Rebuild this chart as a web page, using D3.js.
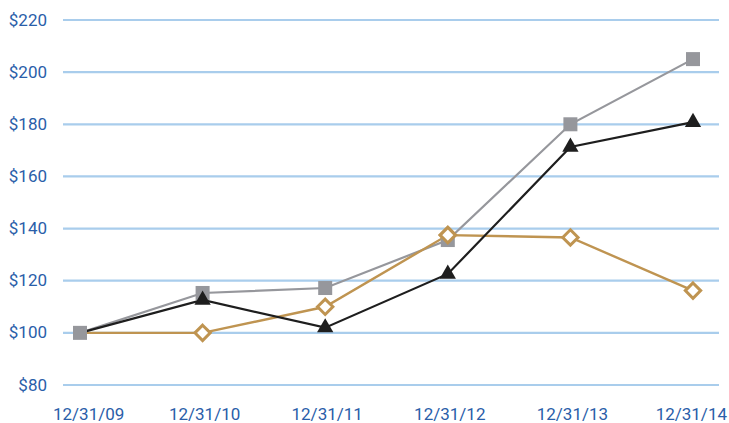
<!DOCTYPE html>
<html>
<head>
<meta charset="utf-8">
<script src="https://cdn.jsdelivr.net/npm/d3@7"></script>
<style>
  body { margin: 0; background: #fff; }
  text { font-family: Roboto, "Open Sans", sans-serif; }
</style>
</head>
<body>
<div id="chart"></div>
<script>
const dates = ["12/31/09", "12/31/10", "12/31/11", "12/31/12", "12/31/13", "12/31/14"];
const grayValues = [100, 115.3, 117.2, 135.6, 180.0, 205.0];
const blackValues = [100, 112.6, 102.0, 122.6, 171.3, 180.8];
const tanValues = [100, 100, 110.0, 137.5, 136.6, 116.2];
const yTicks = [80, 100, 120, 140, 160, 180, 200, 220];

const width = 729, height = 423;
const margin = {top: 20, right: 10, bottom: 38, left: 63};

const svg = d3.select("#chart").append("svg")
  .attr("width", width)
  .attr("height", height);

const xScale = d3.scalePoint()
  .domain(dates)
  .range([80, 693]);

const yScale = d3.scaleLinear()
  .domain([80, 220])
  .range([385, 20]);

// gridlines
svg.append("g")
  .selectAll("line")
  .data(yTicks)
  .join("line")
  .attr("x1", margin.left)
  .attr("x2", 719)
  .attr("y1", d => yScale(d))
  .attr("y2", d => yScale(d))
  .attr("stroke", "#a9cdec")
  .attr("stroke-width", 2.2);

// y labels
svg.append("g")
  .selectAll("text")
  .data(yTicks)
  .join("text")
  .attr("x", 47)
  .attr("y", d => yScale(d))
  .attr("dy", "0.33em")
  .attr("text-anchor", "end")
  .attr("fill", "#2a5ea9")
  .attr("font-size", 17)
  .text(d => "$" + d);

// x labels (first and last are pulled in so they stay inside the page)
const last = dates.length - 1;
svg.append("g")
  .selectAll("text")
  .data(dates)
  .join("text")
  .attr("x", (d, i) => i === 0 ? 53 : i === last ? 727 : xScale(d) + 2)
  .attr("y", 420)
  .attr("text-anchor", (d, i) => i === 0 ? "start" : i === last ? "end" : "middle")
  .attr("fill", "#2a5ea9")
  .attr("font-size", 17)
  .text(d => d);

const lineGen = d3.line()
  .x((d, i) => xScale(dates[i]))
  .y(d => yScale(d));

const series = [
  {values: grayValues, color: "#96979c", width: 2.2},
  {values: tanValues, color: "#bf9451", width: 2.4},
  {values: blackValues, color: "#1e1e1e", width: 2.2}
];

series.forEach(s => {
  svg.append("path")
    .datum(s.values)
    .attr("fill", "none")
    .attr("stroke", s.color)
    .attr("stroke-width", s.width)
    .attr("d", lineGen);
});

// tan diamonds (first point sits under the gray square)
const diamond = d3.symbol().type(d3.symbolDiamond2).size(150);
svg.append("g")
  .selectAll("path")
  .data(tanValues.map((v, i) => ({v, i})).filter(d => d.i > 0))
  .join("path")
  .attr("transform", d => `translate(${xScale(dates[d.i])},${yScale(d.v)})`)
  .attr("d", diamond)
  .attr("fill", "#fff")
  .attr("stroke", "#bf9451")
  .attr("stroke-width", 3);

// gray squares
svg.append("g")
  .selectAll("rect")
  .data(grayValues)
  .join("rect")
  .attr("x", (d, i) => xScale(dates[i]) - 7)
  .attr("y", d => yScale(d) - 7)
  .attr("width", 14)
  .attr("height", 14)
  .attr("fill", "#96979c");

// black triangles
const tri = d3.symbol().type(d3.symbolTriangle).size(115);
svg.append("g")
  .selectAll("path")
  .data(blackValues.map((v, i) => ({v, i})).filter(d => d.i > 0))
  .join("path")
  .attr("transform", d => `translate(${xScale(dates[d.i])},${yScale(d.v)})`)
  .attr("d", tri)
  .attr("fill", "#1e1e1e");

// diamond at 12/31/12 sits on top of the square
svg.append("path")
  .attr("transform", `translate(${xScale(dates[3])},${yScale(tanValues[3])})`)
  .attr("d", diamond)
  .attr("fill", "#fff")
  .attr("stroke", "#bf9451")
  .attr("stroke-width", 3);
</script>
</body>
</html>
